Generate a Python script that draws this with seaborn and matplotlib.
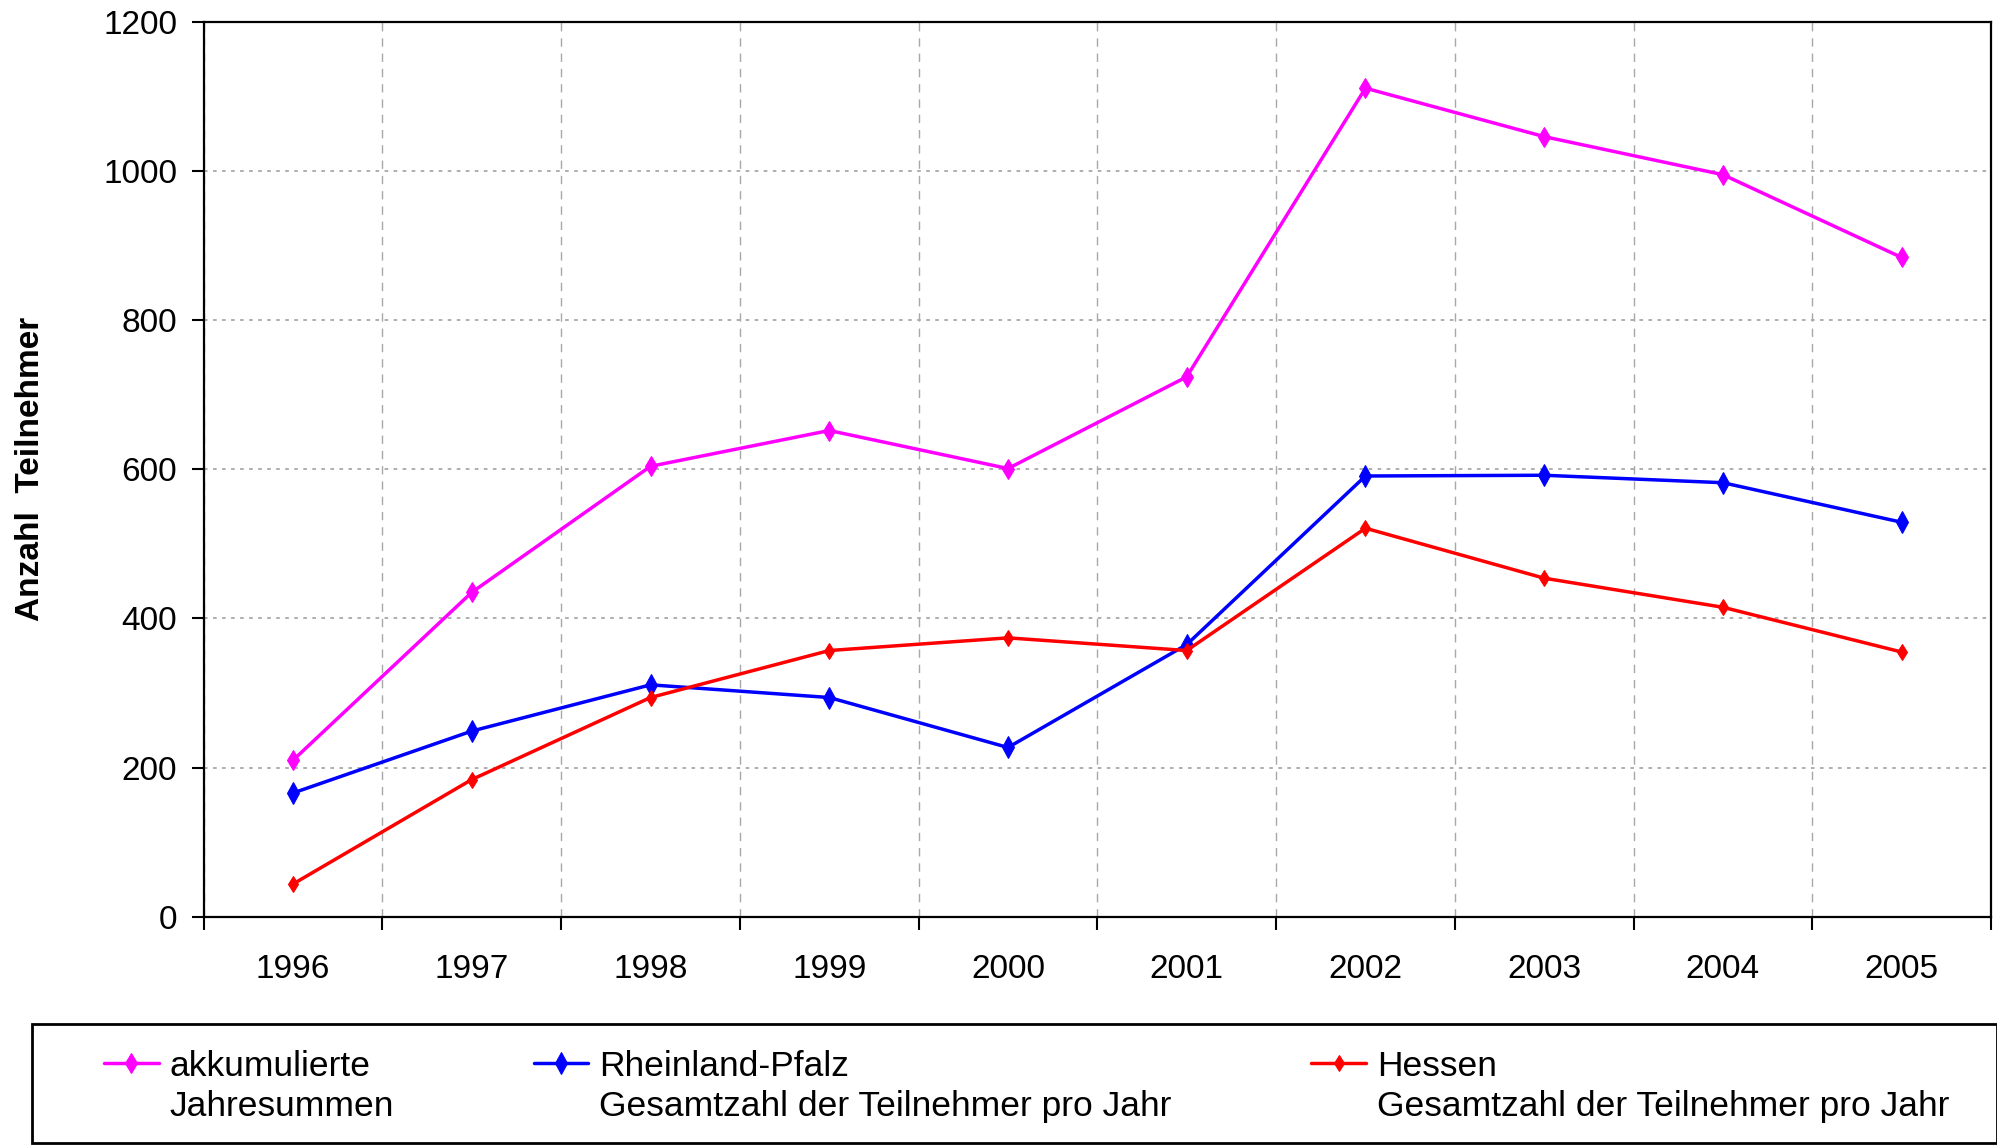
import numpy as np
import matplotlib.pyplot as plt
import seaborn as sns
from matplotlib.lines import Line2D
from matplotlib.patches import Rectangle

# Werte
years = ["1996", "1997", "1998", "1999", "2000", "2001", "2002", "2003", "2004", "2005"]
akkumuliert = [210, 435, 604, 652, 601, 724, 1111, 1046, 995, 884]
rheinland_pfalz = [166, 249, 311, 294, 227, 365, 591, 592, 582, 529]
hessen = [44, 184, 294, 357, 374, 357, 521, 454, 415, 355]

first_lines = ["akkumulierte", "Rheinland-Pfalz", "Hessen"]
second_lines = ["Jahresummen",
                "Gesamtzahl der Teilnehmer pro Jahr",
                "Gesamtzahl der Teilnehmer pro Jahr"]
colors = ["#FF00FF", "#0000FF", "#FF0000"]

sns.set_theme(style="white")
plt.rcParams["font.family"] = ["Liberation Sans", "DejaVu Sans"]

fig = plt.figure(figsize=(19.97, 11.46), dpi=100)
ax = fig.add_axes([0.102, 0.2, 0.895, 0.781])

x = np.arange(len(years))
for values, color, ms in zip([akkumuliert, rheinland_pfalz, hessen], colors, [10, 11, 8]):
    sns.lineplot(x=x, y=values, ax=ax, color=color, linewidth=2.5,
                 marker="d", markersize=ms, markeredgecolor=color,
                 errorbar=None, sort=False, legend=False)

ax.set_xlim(-0.5, len(years) - 0.5)
ax.set_ylim(0, 1200)
ax.set_xticks(np.arange(-0.5, len(years), 1))
ax.set_xticklabels([])
ax.set_xticks(x, minor=True)
ax.set_xticklabels(years, minor=True)
ax.set_yticks(range(0, 1201, 200))

ax.tick_params(axis="x", which="major", direction="out", length=9, width=1.5,
               color="black", bottom=True)
ax.tick_params(axis="x", which="minor", length=0, pad=27, labelsize=24,
               labelcolor="black", bottom=True)
ax.tick_params(axis="y", direction="out", length=9, width=1.5, color="black",
               left=True, pad=10, labelsize=24, labelcolor="black")

ax.grid(False)
ax.xaxis.grid(True, which="major", linestyle=(0, (6, 5)), color="#a8a8a8", lw=1)
ax.yaxis.grid(True, which="major", linestyle=(0, (2, 3)), color="#a8a8a8", lw=1.3)

for sp in ax.spines.values():
    sp.set_color("black")
    sp.set_linewidth(1.6)

ax.set_xlabel("")
ax.set_ylabel("Anzahl  Teilnehmer", fontsize=24, fontweight="bold", color="black")
ax.yaxis.set_label_coords(-0.0885, 0.5)

# Legende: erste Zeile mit Linie, zweite Zeile mit leerem Symbol
handles, labels = [], []
for line, first, second in zip(ax.lines[:3], first_lines, second_lines):
    handles += [line, Line2D([], [], color="none")]
    labels += [first, second]

fig.patches.append(Rectangle((32 / 1997, 3 / 1146), 1 - 32 / 1997, 119 / 1146,
                             transform=fig.transFigure, fill=False,
                             edgecolor="black", linewidth=2))
leg = fig.legend(handles, labels, ncol=3, mode="expand", loc="center",
                 bbox_to_anchor=(0.052, -0.0005, 0.924, 0.105), frameon=False,
                 fontsize=25.5, handlelength=1.55, handletextpad=0.3,
                 labelspacing=0.22, borderpad=0, borderaxespad=0)
for t in leg.get_texts():
    t.set_color("black")

plt.savefig("out.png", dpi=100)
